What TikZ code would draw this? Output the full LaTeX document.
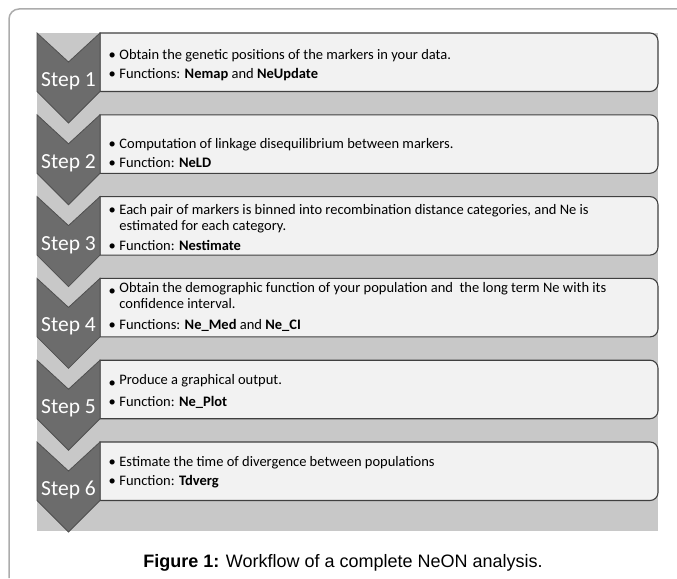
\documentclass[tikz,border=0pt]{standalone}
\usepackage{fontspec}
\setmainfont{Carlito}
\newfontfamily\capfont{Liberation Sans}
\definecolor{bggray}{RGB}{200,200,200}
\definecolor{chevgray}{RGB}{108,108,108}
\definecolor{chevline}{RGB}{80,80,80}
\definecolor{boxfill}{RGB}{242,242,242}
\definecolor{boxline}{RGB}{64,64,64}
\definecolor{framegray}{RGB}{172,172,172}
\newcommand{\bul}{•\hspace{3.5pt}}
\newcommand{\lowbul}{\raisebox{-3pt}{•}\hspace{3.5pt}}
\newcommand{\hang}{\hspace*{\widthof{\bul}}}
\usepackage{calc}
\tikzset{
  chevron/.style={fill=chevgray, draw=chevline, line width=0.8pt},
  stepbox/.style={fill=boxfill, draw=boxline, line width=1.1pt},
  steplabel/.style={text=white, font=\fontsize{21.5}{24}\selectfont, anchor=base, inner sep=0pt},
  item/.style={font=\fontsize{14.5}{16}\selectfont, anchor=base west, inner sep=0pt, align=left},
}
\begin{document}
\begin{tikzpicture}[x=1pt, y=-1pt]
\useasboundingbox (0,0) rectangle (677,578);
\draw[framegray, line width=1.5pt, rounded corners=10pt] (9,578) -- (9,9) -- (677,9);
\fill[bggray] (37,33) rectangle (658,531);
%
\foreach \n in {1,...,6}{
  \pgfmathsetmacro\t{33+81.8*(\n-1)}
  \draw[stepbox] (100,\t) -- (650,\t) arc[start angle=-90, end angle=0, radius=8]
    -- (658,\t+50.5) arc[start angle=0, end angle=90, radius=8] -- (100,\t+58.5) -- cycle;
  \draw[chevron] (37,\t) -- (68.5,\t+29) -- (100,\t) -- (100,\t+58.5)
    -- (68.5,\t+90) -- (37,\t+58.5) -- cycle;
  \node[steplabel] (s\n) at (68.5,\t+53.5) {Step \n};
}
%
% two-line items sit on the baseline of their last line
\node[item] (t1a) at (108.5,59.5) {\bul Obtain the genetic positions of the markers in your data.};
\node[item] (t1b) at (108.5,78.5) {\bul Functions: \textbf{Nemap} and \textbf{NeUpdate}};
\node[item] (t2a) at (108.5,148.5) {\bul Computation of linkage disequilibrium between markers.};
\node[item] (t2b) at (108.5,167.5) {\bul Function: \textbf{NeLD}};
\node[item] (t3a) at (108.5,230.5) {\bul Each pair of markers is binned into recombination distance categories, and Ne is\\
  \hang estimated for each category.};
\node[item] (t3b) at (108.5,250.5) {\bul Function: \textbf{Nestimate}};
\node[item] (t4a) at (108.5,308.5) {\lowbul Obtain the demographic function of your population and\ \ the long term Ne with its\\
  \hang confidence interval.};
\node[item] (t4b) at (108.5,329.5) {\bul Functions: \textbf{Ne\_Med} and \textbf{Ne\_CI}};
\node[item] (t5a) at (108.5,384.5) {\lowbul Produce a graphical output.};
\node[item] (t5b) at (108.5,406.5) {\bul Function: \textbf{Ne\_Plot}};
\node[item] (t6a) at (108.5,466.5) {\bul Estimate the time of divergence between populations};
\node[item] (t6b) at (108.5,485.5) {\bul Function: \textbf{Tdverg}};
%
\node[anchor=base, inner sep=0pt, font=\capfont\fontsize{18}{20}\selectfont] (cap) at (343,567)
  {\textbf{Figure 1:} Workflow of a complete NeON analysis.};
\end{tikzpicture}
\end{document}
